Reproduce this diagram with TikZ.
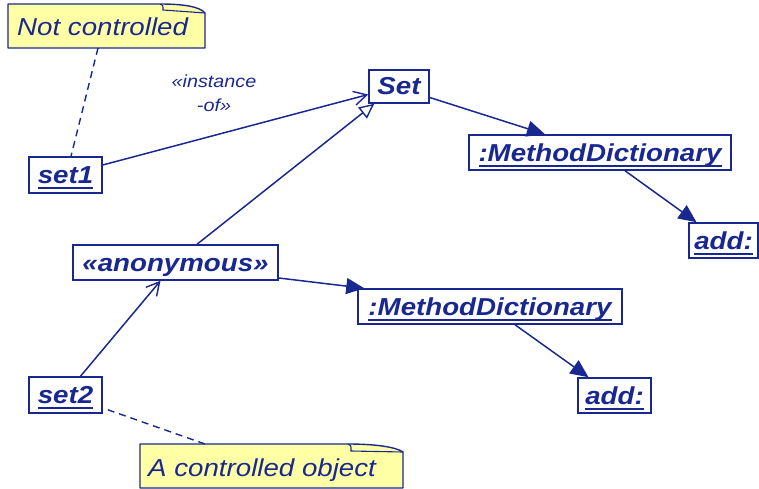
\documentclass[tikz,border=0pt]{standalone}
\usepackage{fontspec}
\setmainfont{Liberation Sans}[FakeStretch=1.13]
\usetikzlibrary{arrows.meta}
\definecolor{uml}{RGB}{25,40,145}
\definecolor{notefill}{RGB}{255,255,165}
\newcommand\ulin[1]{\setbox0\hbox{#1}\rlap{\rule[-5.5pt]{\wd0}{2pt}}\box0}
\begin{document}
\begin{tikzpicture}[x=1pt,y=-1pt,
  obj/.style={draw=uml, fill=white, line width=1.5pt, inner sep=0pt, text=uml,
    font=\fontsize{24.5}{28}\selectfont\bfseries\itshape, text height=17pt, text depth=0pt,
    minimum height=35pt},
  notebox/.style={draw=uml, fill=notefill, line width=1.4pt, line join=round},
  foldline/.style={draw=uml, line width=1.1pt},
  notetext/.style={text=uml, inner sep=0pt, font=\fontsize{24.5}{28}\selectfont\itshape},
  lbl/.style={text=uml, inner sep=0pt, align=center, font=\fontsize{17.5}{24}\selectfont\itshape},
  conn/.style={draw=uml, line width=1.5pt},
  dashconn/.style={draw=uml, line width=1.4pt, dash pattern=on 7pt off 5pt},
  stick/.style={-{Straight Barb[length=13pt,width=14pt,line width=1.4pt]}},
  gen/.style={-{Triangle[fill=white,length=15pt,width=14pt,line width=1.4pt]}},
  filled/.style={-{Triangle[length=18pt,width=16pt]}}
]
\useasboundingbox (0,0) rectangle (759,489);

% notes
\draw[notebox] (8,4) -- (160,4) .. controls (185,4) and (200,7) .. (205,13) -- (205,48) -- (8,48) -- cycle;
\draw[foldline] (160,4) .. controls (163,5) .. (163,10) -- (205,13);
\node[notetext, anchor=base west] (n1) at (17,35.5) {Not controlled};
\coordinate (n1b) at (98,48);

\draw[notebox] (140,444) -- (348,444) .. controls (375,444) and (396,447) .. (403,452) -- (403,488) -- (140,488) -- cycle;
\draw[foldline] (348,444) .. controls (351,445) .. (351,451) -- (403,452);
\node[notetext, anchor=base west] (n2) at (148,476) {A controlled object};
\coordinate (n2t) at (205,444);

% objects
\node[obj, minimum width=73pt, minimum height=36pt] (set1) at (65.5,175) {\ulin{set1}};
\node[obj, minimum width=60pt, minimum height=33pt] (Set) at (399,86.5) {Set};
\node[obj, minimum width=262pt] (md1) at (600,152.5) {\ulin{:MethodDictionary}};
\node[obj, minimum width=69pt] (add1) at (723.5,240.5) {\ulin{add:}};
\node[obj, minimum width=205pt] (anon) at (175.5,262.5) {«anonymous»};
\node[obj, minimum width=264pt] (md2) at (490,306.5) {\ulin{:MethodDictionary}};
\node[obj, minimum width=73pt] (add2) at (614.5,395.5) {\ulin{add:}};
\node[obj, minimum width=73pt, minimum height=36pt] (set2) at (65.5,395) {\ulin{set2}};

\node[lbl] (lab) at (214,93.7) {«instance\\-of»};

% dashed note links
\draw[dashconn] (n1b) -- ([xshift=5.5pt]set1.north);
\draw[dashconn] ([xshift=5pt,yshift=4pt]set2.south east) -- (n2t);

% connectors
\draw[conn, stick] ([yshift=10pt]set1.east) -- ([yshift=-8pt]Set.west);
\draw[conn, gen] ([xshift=21.5pt]anon.north) -- ([xshift=6pt]Set.south west);
\draw[conn, filled] ([yshift=-11pt]Set.east) -- ([xshift=-55pt]md1.north);
\draw[conn, filled] ([xshift=25pt]md1.south) -- ([xshift=-27pt]add1.north);
\draw[conn, filled] ([yshift=-15.5pt]anon.east) -- ([xshift=7pt]md2.north west);
\draw[conn, filled] ([xshift=25pt]md2.south) -- ([xshift=-26pt]add2.north);
\draw[conn, stick] ([xshift=15pt]set2.north) -- ([xshift=-15pt]anon.south);
\end{tikzpicture}
\end{document}
